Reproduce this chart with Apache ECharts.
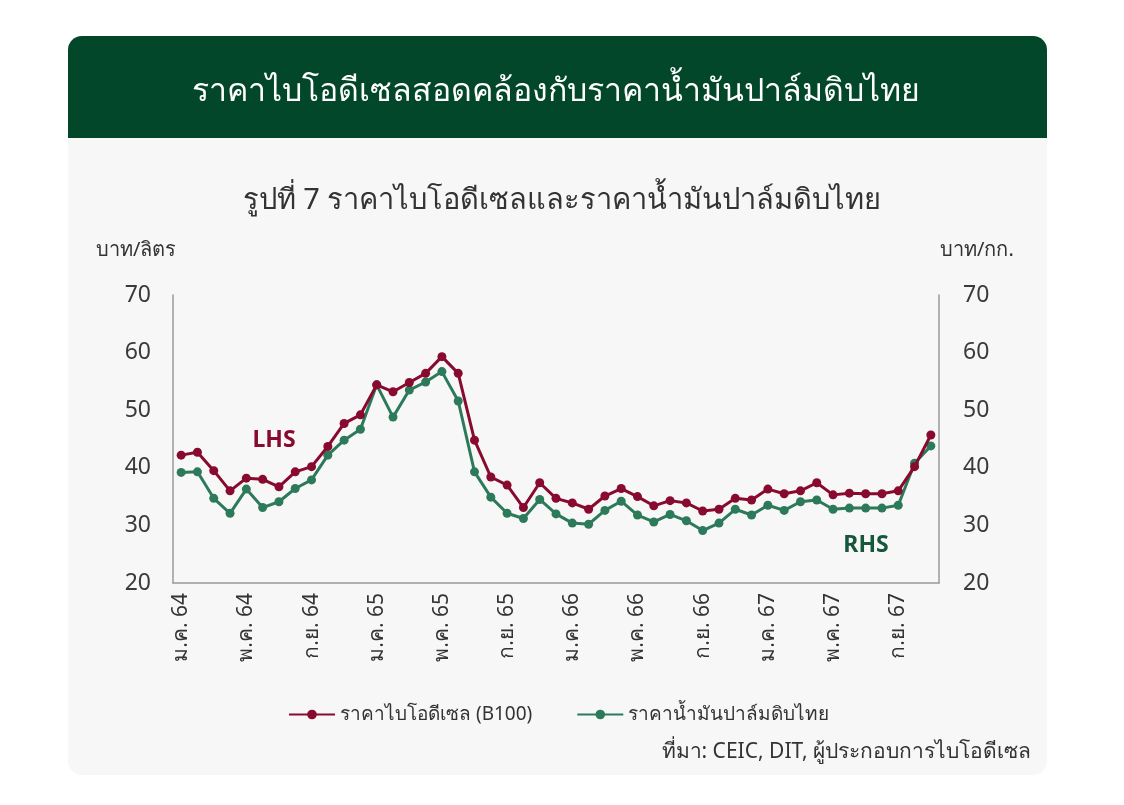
<!DOCTYPE html>
<html>
<head>
<meta charset="utf-8">
<script src="https://cdn.jsdelivr.net/npm/echarts@6/dist/echarts.min.js"></script>
<style>
html,body{margin:0;padding:0;background:#ffffff;}
#chart{width:1124px;height:805px;}
</style>
</head>
<body>
<div id="chart"></div>
<script>
const months = ['ม.ค.','ก.พ.','มี.ค.','เม.ย.','พ.ค.','มิ.ย.','ก.ค.','ส.ค.','ก.ย.','ต.ค.','พ.ย.','ธ.ค.'];
const years = ['64','65','66','67'];
const nPoints = 47; // ม.ค. 64 – พ.ย. 67
const categories = [];
for (let i = 0; i < nPoints; i++) {
  categories.push(months[i % 12] + ' ' + years[Math.floor(i / 12)]);
}
const biodieselB100 = [42.2,42.7,39.5,36.0,38.2,38.0,36.7,39.3,40.2,43.7,47.7,49.2,
  54.4,53.2,54.8,56.4,59.3,56.4,44.8,38.4,37.0,33.1,37.4,34.7,
  33.9,32.8,35.1,36.4,35.0,33.4,34.3,33.9,32.5,32.8,34.7,34.4,
  36.3,35.5,36.0,37.4,35.3,35.6,35.5,35.5,36.0,40.2,45.7];
const crudePalmOil = [39.2,39.3,34.7,32.1,36.3,33.1,34.1,36.4,37.9,42.2,44.8,46.7,
  54.4,48.8,53.5,54.9,56.7,51.6,39.3,34.9,32.1,31.2,34.5,32.0,
  30.4,30.2,32.6,34.2,31.8,30.6,31.9,30.8,29.1,30.4,32.8,31.8,
  33.5,32.6,34.1,34.4,32.8,33.0,33.0,33.0,33.5,40.8,43.8];
const yTicks = {min: 20, max: 70, interval: 10};
const seriesNames = ['ราคาไบโอดีเซล (B100)', 'ราคาน้ำมันปาล์มดิบไทย'];

const FONT = '"Noto Sans", "DejaVu Sans", sans-serif';
const RED = '#880a2e';
const GREEN = '#2d7a5b';
const AXIS = '#9a9a9a';
const TXT = '#333333';

const chart = echarts.init(document.getElementById('chart'), null, {renderer: 'canvas'});
chart.setOption({
  animation: false,
  backgroundColor: '#ffffff',
  textStyle: {fontFamily: FONT},
  graphic: [
    {type: 'rect', z: -10, shape: {x: 68, y: 36, width: 979, height: 739, r: 14}, style: {fill: '#f7f7f7'}},
    {type: 'rect', z: -9, shape: {x: 68, y: 36, width: 979, height: 102, r: [14, 14, 0, 0]}, style: {fill: '#03472a'}},
    {type: 'text', style: {text: 'บาท/ลิตร', x: 96, y: 250, fill: TXT, font: '20px ' + FONT, verticalAlign: 'middle'}},
    {type: 'text', style: {text: 'บาท/กก.', x: 940, y: 250, fill: TXT, font: '20px ' + FONT, verticalAlign: 'middle'}},
    {type: 'text', style: {text: 'LHS', x: 274, y: 440, fill: RED, font: 'bold 23px ' + FONT, align: 'center', verticalAlign: 'middle'}},
    {type: 'text', style: {text: 'RHS', x: 866, y: 545, fill: '#17583c', font: 'bold 23px ' + FONT, align: 'center', verticalAlign: 'middle'}},
    {type: 'text', style: {text: 'ที่มา: CEIC, DIT, ผู้ประกอบการไบโอดีเซล', x: 1031, y: 752, fill: TXT, font: '21px ' + FONT, align: 'right', verticalAlign: 'middle'}}
  ],
  title: [
    {
      text: 'ราคาไบโอดีเซลสอดคล้องกับราคาน้ำมันปาล์มดิบไทย',
      left: 551, top: 71, textAlign: 'center',
      textStyle: {fontSize: 32, fontWeight: 'normal', color: '#ffffff', fontFamily: FONT}
    },
    {
      text: 'รูปที่ 7 ราคาไบโอดีเซลและราคาน้ำมันปาล์มดิบไทย',
      left: 557, top: 181, textAlign: 'center',
      textStyle: {fontSize: 29, fontWeight: 'normal', color: TXT, fontFamily: FONT}
    }
  ],
  legend: {
    data: seriesNames,
    left: 283, top: 700,
    itemWidth: 46, itemHeight: 12, itemGap: 44,
    textStyle: {fontSize: 19, color: TXT, fontFamily: FONT}
  },
  grid: {left: 173, right: 185, top: 295, bottom: 222, containLabel: false},
  xAxis: {
    type: 'category',
    data: categories,
    boundaryGap: true,
    axisLine: {lineStyle: {color: AXIS, width: 1.5}},
    axisTick: {show: false},
    axisLabel: {interval: 3, rotate: 90, fontSize: 21, color: TXT, margin: 10, fontFamily: FONT}
  },
  yAxis: [
    {
      type: 'value', position: 'left', min: yTicks.min, max: yTicks.max, interval: yTicks.interval,
      axisLine: {show: true, lineStyle: {color: AXIS, width: 1.5}},
      axisTick: {show: false}, splitLine: {show: false},
      axisLabel: {fontSize: 23, color: '#3a3a3a', margin: 22, fontFamily: FONT}
    },
    {
      type: 'value', position: 'right', min: yTicks.min, max: yTicks.max, interval: yTicks.interval,
      axisLine: {show: true, lineStyle: {color: AXIS, width: 1.5}},
      axisTick: {show: false}, splitLine: {show: false},
      axisLabel: {fontSize: 23, color: '#3a3a3a', margin: 24, fontFamily: FONT}
    }
  ],
  series: [
    {
      name: seriesNames[0], type: 'line', yAxisIndex: 0, data: biodieselB100,
      symbol: 'circle', symbolSize: 9, showAllSymbol: true,
      lineStyle: {color: RED, width: 3}, itemStyle: {color: RED}, z: 3
    },
    {
      name: seriesNames[1], type: 'line', yAxisIndex: 1, data: crudePalmOil,
      symbol: 'circle', symbolSize: 9, showAllSymbol: true,
      lineStyle: {color: GREEN, width: 3}, itemStyle: {color: GREEN}, z: 2
    }
  ]
});
</script>
</body>
</html>
